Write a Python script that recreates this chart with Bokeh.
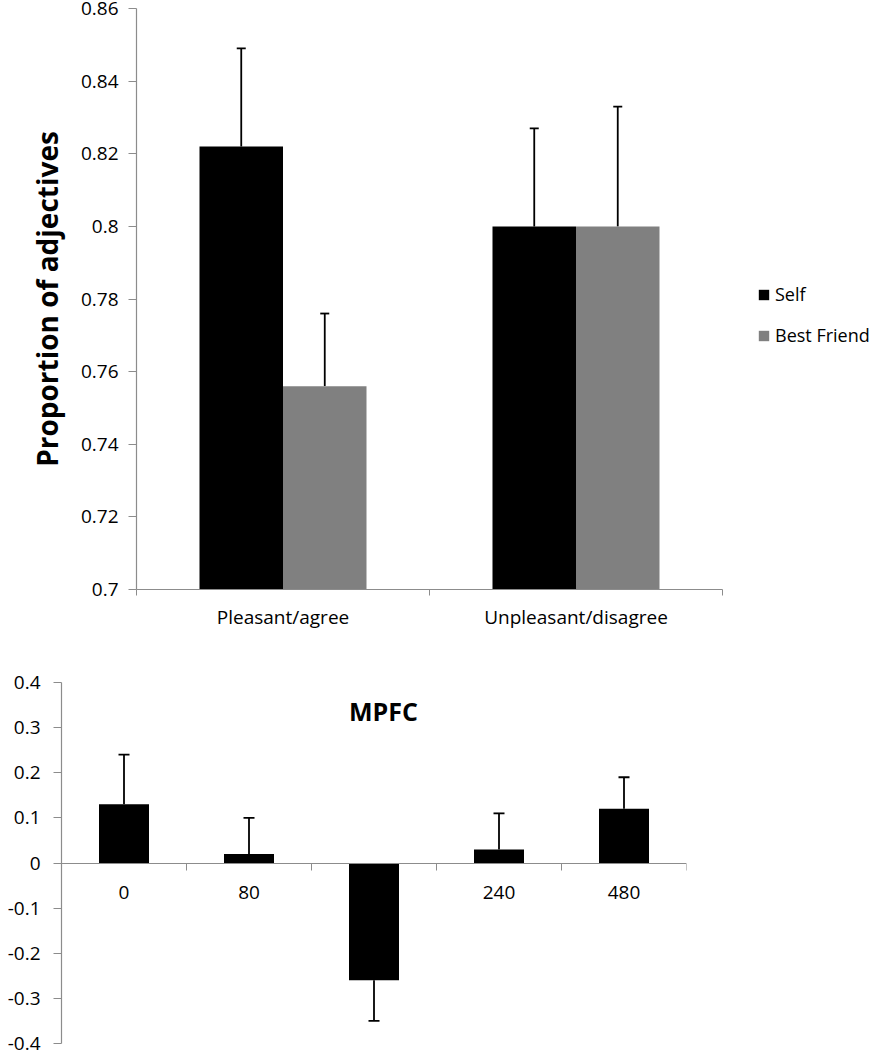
from bokeh.plotting import figure
from bokeh.layouts import column
from bokeh.models import (ColumnDataSource, FixedTicker, LinearAxis, NumeralTickFormatter,
                          Whisker, TeeHead, Legend, LegendItem, Range1d, Label)
from bokeh.embed import file_html
from bokeh.resources import INLINE

FONT = "Open Sans"
AXIS_GRAY = "#8c8c8c"

# ---------------- data: top chart ----------------
categories = ["Pleasant/agree", "Unpleasant/disagree"]
series_names = ["Self", "Best Friend"]
self_vals = [0.822, 0.800]
self_err = [0.027, 0.027]
friend_vals = [0.756, 0.800]
friend_err = [0.020, 0.033]
top_yticks = [0.70, 0.72, 0.74, 0.76, 0.78, 0.80, 0.82, 0.84, 0.86]

# ---------------- data: bottom chart ----------------
mpfc_labels = ["0", "80", "", "240", "480"]
mpfc_vals = [0.13, 0.02, -0.26, 0.03, 0.12]
mpfc_err = [0.11, 0.08, 0.09, 0.08, 0.07]
bottom_yticks = [-0.4, -0.3, -0.2, -0.1, 0.0, 0.1, 0.2, 0.3, 0.4]

PAGE_W = 873
TICK_FONT_SIZE = "19px"


def style_yaxis(ax, standoff):
    ax.axis_line_color = AXIS_GRAY
    ax.axis_line_width = 1.2
    ax.major_tick_line_color = AXIS_GRAY
    ax.major_tick_out = 8
    ax.major_tick_in = 0
    ax.minor_tick_line_color = None
    ax.major_label_text_font = FONT
    ax.major_label_text_font_size = TICK_FONT_SIZE
    ax.major_label_text_color = "black"
    ax.major_label_standoff = standoff


def style_xaxis(ax, tick_out, standoff):
    ax.axis_line_color = AXIS_GRAY
    ax.axis_line_width = 1.2
    ax.major_tick_line_color = None
    ax.major_tick_out = 0
    ax.major_tick_in = 0
    ax.minor_tick_line_color = AXIS_GRAY
    ax.minor_tick_out = tick_out
    ax.minor_tick_in = 0
    ax.major_label_text_font = FONT
    ax.major_label_text_font_size = TICK_FONT_SIZE
    ax.major_label_text_color = "black"
    ax.major_label_standoff = standoff


# ================= TOP FIGURE =================
ncat = len(categories)
top_left = 136
top_cat_px = 293
top_frame_w = PAGE_W - top_left
p1 = figure(frame_width=top_frame_w, frame_height=581,
            x_range=Range1d(0, top_frame_w / top_cat_px),
            y_range=Range1d(top_yticks[0], top_yticks[-1]),
            output_backend="svg", toolbar_location=None,
            x_axis_type=None, y_axis_type=None,
            min_border_left=top_left, min_border_right=0,
            min_border_top=8, min_border_bottom=71)
p1.outline_line_color = None
p1.grid.visible = False
p1.frame_align = False

bw = 0.285
xs_self = [i + 0.5 - bw / 2 for i in range(ncat)]
xs_friend = [i + 0.5 + bw / 2 for i in range(ncat)]

src_self = ColumnDataSource(dict(x=xs_self, top=self_vals,
                                 upper=[v + e for v, e in zip(self_vals, self_err)]))
src_friend = ColumnDataSource(dict(x=xs_friend, top=friend_vals,
                                   upper=[v + e for v, e in zip(friend_vals, friend_err)]))

r_self = p1.vbar(x="x", top="top", bottom=top_yticks[0], width=bw, source=src_self,
                 fill_color="black", line_color=None)
r_friend = p1.vbar(x="x", top="top", bottom=top_yticks[0], width=bw, source=src_friend,
                   fill_color="#808080", line_color=None)

for src in (src_self, src_friend):
    p1.add_layout(Whisker(source=src, base="x", lower="top", upper="upper",
                          lower_head=None,
                          upper_head=TeeHead(size=9, line_color="black", line_width=1.8),
                          line_color="black", line_width=1.8))

yax1 = LinearAxis(ticker=FixedTicker(ticks=top_yticks),
                  formatter=NumeralTickFormatter(format="0.[00]"),
                  axis_label="Proportion of adjectives")
style_yaxis(yax1, 10)
yax1.axis_label_text_font = FONT
yax1.axis_label_text_font_size = "28px"
yax1.axis_label_text_font_style = "bold"
yax1.axis_label_text_color = "black"
yax1.axis_label_standoff = 12
p1.add_layout(yax1, "left")

xax1 = LinearAxis(ticker=FixedTicker(ticks=[i + 0.5 for i in range(ncat)],
                                     minor_ticks=list(range(ncat + 1))),
                  major_label_overrides={i + 0.5: c for i, c in enumerate(categories)},
                  bounds=(0, ncat))
style_xaxis(xax1, 6, 8)
p1.add_layout(xax1, "below")

legend = Legend(items=[LegendItem(label=series_names[0], renderers=[r_self]),
                       LegendItem(label=series_names[1], renderers=[r_friend])],
                location=(621, 242), orientation="vertical",
                glyph_width=13, glyph_height=13, label_standoff=5, spacing=17,
                padding=0, margin=0, border_line_color=None, background_fill_alpha=0,
                label_text_font=FONT, label_text_font_size="18px", label_text_color="black")
p1.add_layout(legend, "center")

# ================= BOTTOM FIGURE =================
nb = len(mpfc_vals)
p2 = figure(frame_width=625, frame_height=361, x_range=Range1d(0, nb),
            y_range=Range1d(bottom_yticks[0], bottom_yticks[-1]),
            output_backend="svg", toolbar_location=None,
            x_axis_type=None, y_axis_type=None,
            min_border_left=61, min_border_right=PAGE_W - 61 - 625,
            min_border_top=22, min_border_bottom=7)
p2.outline_line_color = None
p2.grid.visible = False
p2.frame_align = False

xs2 = [i + 0.5 for i in range(nb)]
src2 = ColumnDataSource(dict(x=xs2, top=mpfc_vals,
                             tip=[v + (e if v >= 0 else -e) for v, e in zip(mpfc_vals, mpfc_err)]))
p2.vbar(x="x", top="top", bottom=0, width=0.4, source=src2,
        fill_color="black", line_color=None)
p2.add_layout(Whisker(source=src2, base="x", lower="top", upper="tip",
                      lower_head=None,
                      upper_head=TeeHead(size=11, line_color="black", line_width=1.8),
                      line_color="black", line_width=1.8))

yax2 = LinearAxis(ticker=FixedTicker(ticks=bottom_yticks),
                  formatter=NumeralTickFormatter(format="0.[0]"))
style_yaxis(yax2, 13)
p2.add_layout(yax2, "left")

xax2 = LinearAxis(ticker=FixedTicker(ticks=xs2, minor_ticks=list(range(nb + 1))),
                  major_label_overrides={x: (l if l else " ") for x, l in zip(xs2, mpfc_labels)},
                  fixed_location=0)
style_xaxis(xax2, 7, 9)
p2.add_layout(xax2, "below")

p2.add_layout(Label(x=322, y=333, x_units="screen", y_units="screen", text="MPFC",
                    text_align="center", text_baseline="middle",
                    text_font=FONT, text_font_size="25px", text_font_style="bold",
                    text_color="black"))

layout = column(p1, p2, spacing=0)
open("out.html", "w").write(file_html(layout, INLINE))
